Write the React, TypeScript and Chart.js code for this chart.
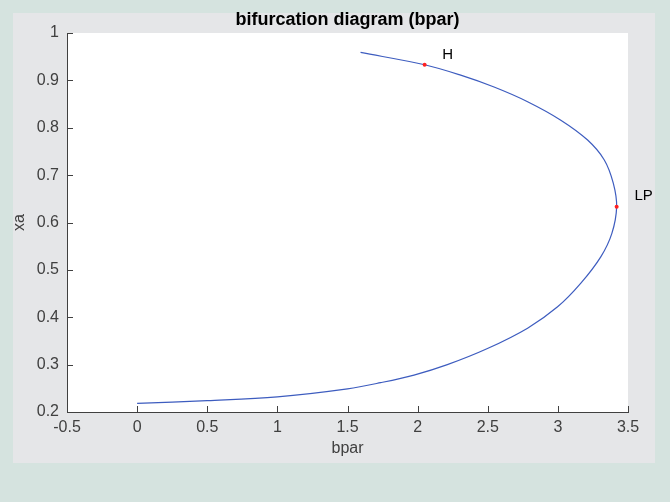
import React, { useEffect, useRef } from "react";
import { Chart, registerables } from "chart.js";

Chart.register(...registerables);

// Continuation branch: bpar (x) against xa (y), traced from bpar = 0 up to the fold and back.
const bparValues = [
  0, 0.5, 1.0, 1.5, 1.736, 1.974, 2.212, 2.498, 2.784, 2.998, 3.164, 3.307, 3.385,
  3.419, 3.395, 3.331, 3.212, 3.021, 2.784, 2.545, 2.307, 2.05, 1.593,
];
const xaValues = [
  0.218, 0.224, 0.232, 0.249, 0.262, 0.278, 0.300, 0.334, 0.377, 0.422, 0.472, 0.528, 0.577,
  0.633, 0.683, 0.732, 0.774, 0.816, 0.855, 0.886, 0.911, 0.933, 0.959,
];

// Special points found along the branch: Hopf (H) and limit point (LP).
const specialLabels = ["H", "LP"];
const specialBpar = [2.05, 3.419];
const specialXa = [0.933, 0.633];

const xTickValues = [-0.5, 0, 0.5, 1, 1.5, 2, 2.5, 3, 3.5];
const yTickValues = [0.2, 0.3, 0.4, 0.5, 0.6, 0.7, 0.8, 0.9, 1];

const titleText = "bifurcation diagram (bpar)";
const xTitle = "bpar";
const yTitle = "xa";

const FONT = '"Liberation Sans", Arial, Helvetica, sans-serif';
const AXIS_COLOR = "#404040";
const PAGE_BG = "#d5e3df";
const FIGURE_BG = "#e5e6e8";

const formatTick = (v: number | string) => String(Number(Number(v).toFixed(2)));

const backdrop = {
  id: "backdrop",
  beforeDraw(chart: any) {
    const { ctx, width, height, chartArea } = chart;
    ctx.save();
    ctx.fillStyle = PAGE_BG;
    ctx.fillRect(0, 0, width, height);
    ctx.fillStyle = FIGURE_BG;
    ctx.fillRect(13, 13, 642, 450);
    ctx.fillStyle = "#ffffff";
    ctx.fillRect(chartArea.left, chartArea.top, chartArea.right - chartArea.left, chartArea.bottom - chartArea.top);
    ctx.restore();
  },
};

const annotations = {
  id: "annotations",
  afterDraw(chart: any) {
    const { ctx, chartArea, scales } = chart;
    const xs = scales.x;
    const ys = scales.y;
    ctx.save();

    // inward tick marks
    ctx.strokeStyle = AXIS_COLOR;
    ctx.lineWidth = 1;
    ctx.beginPath();
    for (const v of xTickValues) {
      const px = Math.round(xs.getPixelForValue(v)) + 0.5;
      ctx.moveTo(px, chartArea.bottom);
      ctx.lineTo(px, chartArea.bottom - 6);
    }
    for (const v of yTickValues) {
      const py = Math.round(ys.getPixelForValue(v)) + 0.5;
      ctx.moveTo(chartArea.left, py);
      ctx.lineTo(chartArea.left + 6, py);
    }
    ctx.stroke();

    // title
    const cx = (chartArea.left + chartArea.right) / 2;
    ctx.fillStyle = "#000000";
    ctx.font = `bold 18px ${FONT}`;
    ctx.textAlign = "center";
    ctx.textBaseline = "middle";
    ctx.fillText(titleText, cx, 20);

    // axis titles
    ctx.fillStyle = AXIS_COLOR;
    ctx.font = `16px ${FONT}`;
    ctx.fillText(xTitle, cx, 449);
    ctx.save();
    ctx.translate(20, (chartArea.top + chartArea.bottom) / 2);
    ctx.rotate(-Math.PI / 2);
    ctx.fillText(yTitle, 0, 0);
    ctx.restore();

    // special point labels
    ctx.fillStyle = "#000000";
    ctx.font = `15px ${FONT}`;
    const offsets = [
      [23, -10],
      [27, -11],
    ];
    specialLabels.forEach((lab, i) => {
      const px = xs.getPixelForValue(specialBpar[i]);
      const py = ys.getPixelForValue(specialXa[i]);
      ctx.fillText(lab, px + offsets[i][0], py + offsets[i][1]);
    });
    ctx.restore();
  },
};

export default function App() {
  const canvasRef = useRef<HTMLCanvasElement | null>(null);

  useEffect(() => {
    const canvas = canvasRef.current;
    if (!canvas) return;
    const curve = bparValues.map((b, i) => ({ x: b, y: xaValues[i] }));
    const special = specialBpar.map((b, i) => ({ x: b, y: specialXa[i] }));

    const chart = new Chart(canvas, {
      type: "scatter",
      data: {
        datasets: [
          {
            data: special,
            showLine: false,
            pointRadius: 2,
            pointBackgroundColor: "#ff2020",
            pointBorderWidth: 0,
            order: 0,
          },
          {
            data: curve,
            showLine: true,
            borderColor: "#3d5cbf",
            borderWidth: 1.2,
            tension: 0.35,
            pointRadius: 0,
            fill: false,
            order: 1,
          },
        ],
      },
      options: {
        responsive: false,
        animation: false,
        layout: { padding: { top: 33, right: 42, left: 0, bottom: 0 } },
        plugins: {
          legend: { display: false },
          title: { display: false },
          tooltip: { enabled: false },
        },
        scales: {
          x: {
            type: "linear",
            min: -0.5,
            max: 3.5,
            grid: { display: false, drawTicks: false },
            border: { display: true, color: AXIS_COLOR, width: 1 },
            ticks: {
              stepSize: 0.5,
              padding: 6,
              color: AXIS_COLOR,
              font: { family: FONT, size: 16 },
              maxRotation: 0,
              callback: (v: any) => formatTick(v),
            },
            afterFit: (s: any) => {
              s.height = 90;
            },
          },
          y: {
            type: "linear",
            min: 0.2,
            max: 1,
            grid: { display: false, drawTicks: false },
            border: { display: true, color: AXIS_COLOR, width: 1 },
            ticks: {
              stepSize: 0.1,
              padding: 8,
              color: AXIS_COLOR,
              font: { family: FONT, size: 16 },
              callback: (v: any) => formatTick(v),
            },
            afterFit: (s: any) => {
              s.width = 67;
            },
          },
        },
      },
      plugins: [backdrop, annotations],
    });

    return () => chart.destroy();
  }, []);

  return (
    <div style={{ position: "absolute", left: 0, top: 0, width: 670, height: 502 }}>
      <canvas ref={canvasRef} width={670} height={502} style={{ display: "block" }} />
    </div>
  );
}
